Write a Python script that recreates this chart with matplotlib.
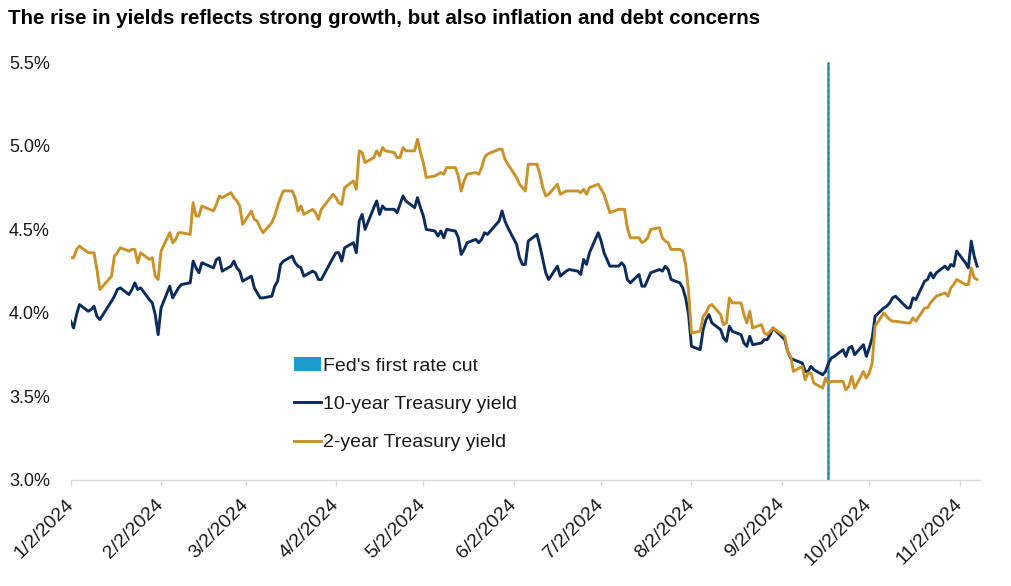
import matplotlib
matplotlib.use('Agg')
import matplotlib.pyplot as plt
import matplotlib.patches as mpatches
from matplotlib.lines import Line2D
import pandas as pd

plt.rcParams['font.family'] = ['Liberation Sans', 'DejaVu Sans']

W, H = 1011, 586

C_10Y  = '#0c2c5c'
C_2Y   = '#c9922b'
C_FED  = '#1c9ccc'
C_TEXT = '#1a1a1a'
C_AXIS = '#d9d9d9'

# ── 데이터 ──────────────────────────────────────────────────────────────
START, END = '2024-01-02', '2024-11-08'
HOLIDAYS = ['2024-01-15', '2024-02-19', '2024-03-29', '2024-05-27',
            '2024-06-19', '2024-07-04', '2024-09-02', '2024-10-14']
FED_CUT = '2024-09-18'

TEN_YEAR = [
    3.95, 3.91, 3.99, 4.05, 4.01, 4.02, 4.04, 3.98, 3.96, 4.07, 4.10, 4.14, 4.15, 4.11, 4.14, 4.18, 4.14, 4.15, 4.08, 4.06, 3.99,  # jan
    3.87, 4.03, 4.16, 4.09, 4.12, 4.15, 4.17, 4.18, 4.31, 4.27, 4.24, 4.30, 4.27, 4.32, 4.33, 4.25, 4.28, 4.31, 4.27, 4.25,  # feb
    4.19, 4.22, 4.15, 4.12, 4.09, 4.09, 4.10, 4.16, 4.19, 4.29, 4.31, 4.34, 4.30, 4.28, 4.27, 4.22, 4.25, 4.24, 4.20, 4.20,  # mar
    4.33, 4.36, 4.36, 4.31, 4.39, 4.42, 4.36, 4.55, 4.59, 4.50, 4.63, 4.67, 4.59, 4.64, 4.62, 4.62, 4.60, 4.65, 4.70, 4.67, 4.63, 4.69,  # apr
    4.63, 4.58, 4.50, 4.49, 4.46, 4.49, 4.45, 4.50, 4.49, 4.45, 4.35, 4.38, 4.42, 4.44, 4.42, 4.44, 4.48, 4.47, 4.55, 4.61, 4.55, 4.51,  # may
    4.41, 4.33, 4.29, 4.29, 4.43, 4.47, 4.40, 4.32, 4.24, 4.20, 4.28, 4.22, 4.25, 4.26, 4.25, 4.23, 4.32, 4.29, 4.36,  # jun
    4.48, 4.43, 4.36, 4.28, 4.28, 4.30, 4.28, 4.20, 4.18, 4.23, 4.16, 4.16, 4.20, 4.24, 4.26, 4.25, 4.28, 4.26, 4.20, 4.18, 4.15, 4.09,  # jul
    3.99, 3.80, 3.78, 3.90, 3.96, 3.99, 3.94, 3.90, 3.85, 3.83, 3.92, 3.89, 3.87, 3.82, 3.80, 3.86, 3.81, 3.82, 3.84, 3.84, 3.87, 3.91,  # aug
    3.84, 3.77, 3.73, 3.72, 3.70, 3.65, 3.65, 3.68, 3.66, 3.63, 3.65, 3.70, 3.73, 3.74, 3.78, 3.74, 3.79, 3.80, 3.75, 3.81,  # sep
    3.74, 3.79, 3.85, 3.98, 4.03, 4.04, 4.06, 4.09, 4.10, 4.03, 4.03, 4.09, 4.08, 4.19, 4.20, 4.24, 4.21, 4.24, 4.28, 4.26, 4.29, 4.28,  # oct
    4.37, 4.30, 4.27, 4.43, 4.34, 4.28,  # nov
]

TWO_YEAR = [
    4.33, 4.33, 4.38, 4.40, 4.36, 4.36, 4.36, 4.26, 4.14, 4.22, 4.34, 4.36, 4.39, 4.37, 4.38, 4.38, 4.30, 4.36, 4.32, 4.33, 4.22,  # jan
    4.20, 4.37, 4.48, 4.42, 4.44, 4.48, 4.48, 4.47, 4.66, 4.58, 4.58, 4.64, 4.61, 4.65, 4.70, 4.69, 4.72, 4.69, 4.67, 4.64,  # feb
    4.53, 4.61, 4.56, 4.55, 4.51, 4.48, 4.54, 4.58, 4.64, 4.69, 4.73, 4.73, 4.69, 4.61, 4.64, 4.59, 4.62, 4.60, 4.56, 4.62,  # mar
    4.71, 4.69, 4.66, 4.65, 4.75, 4.79, 4.74, 4.97, 4.96, 4.90, 4.93, 4.97, 4.94, 4.99, 4.97, 4.96, 4.93, 4.93, 4.99, 4.97, 4.97, 5.04,  # apr
    4.96, 4.90, 4.81, 4.82, 4.83, 4.84, 4.83, 4.87, 4.87, 4.82, 4.73, 4.79, 4.83, 4.84, 4.83, 4.87, 4.93, 4.95, 4.98, 4.98, 4.92, 4.89,  # may
    4.81, 4.77, 4.75, 4.73, 4.89, 4.89, 4.83, 4.75, 4.70, 4.71, 4.77, 4.71, 4.73, 4.73, 4.73, 4.72, 4.74, 4.71, 4.75,  # jun
    4.77, 4.74, 4.71, 4.60, 4.62, 4.62, 4.62, 4.51, 4.45, 4.45, 4.42, 4.43, 4.45, 4.50, 4.51, 4.45, 4.43, 4.42, 4.38, 4.38, 4.37, 4.29,  # jul
    4.13, 3.88, 3.89, 3.98, 4.00, 4.04, 4.05, 3.99, 3.93, 3.94, 4.09, 4.06, 4.06, 3.99, 3.94, 4.01, 3.91, 3.93, 3.88, 3.87, 3.89, 3.91,  # aug
    3.86, 3.77, 3.74, 3.65, 3.68, 3.60, 3.64, 3.64, 3.58, 3.55, 3.61, 3.58, 3.59, 3.59, 3.59, 3.54, 3.56, 3.62, 3.55, 3.65,  # sep
    3.61, 3.64, 3.70, 3.92, 4.00, 3.98, 3.96, 3.95, 3.95, 3.94, 3.94, 3.97, 3.95, 4.03, 4.03, 4.06, 4.08, 4.10, 4.12, 4.10, 4.15, 4.17,  # oct
    4.20, 4.17, 4.17, 4.27, 4.21, 4.20,  # nov
]

TICK_DATES  = ['2024-01-02', '2024-02-02', '2024-03-02', '2024-04-02', '2024-05-02', '2024-06-02',
               '2024-07-02', '2024-08-02', '2024-09-02', '2024-10-02', '2024-11-02']
TICK_LABELS = ['1/2/2024', '2/2/2024', '3/2/2024', '4/2/2024', '5/2/2024', '6/2/2024',
               '7/2/2024', '8/2/2024', '9/2/2024', '10/2/2024', '11/2/2024']
Y_TICKS = [3.0, 3.5, 4.0, 4.5, 5.0, 5.5]

dates = pd.bdate_range(START, END, freq='C', holidays=HOLIDAYS)
assert len(dates) == len(TEN_YEAR) == len(TWO_YEAR), (len(dates), len(TEN_YEAR), len(TWO_YEAR))

# ── 그림 ────────────────────────────────────────────────────────────────
fig = plt.figure(figsize=(W / 100, H / 100), dpi=100)
fig.patch.set_facecolor('white')

L, R, T, B = 70.7, 980, 62.3, 480
ax = fig.add_axes([L / W, 1 - B / H, (R - L) / W, (B - T) / H])

fed = pd.Timestamp(FED_CUT)
ax.plot([fed, fed], [Y_TICKS[0], Y_TICKS[-1]], color=C_FED, lw=1.8, zorder=1, solid_capstyle='butt')
ax.plot([fed, fed], [Y_TICKS[0], Y_TICKS[-1]], color='#2b6f96', lw=0.9, dashes=(2, 2.5), zorder=1)

ax.plot(dates, TEN_YEAR, color=C_10Y, lw=2.1, zorder=3, solid_joinstyle='round')
ax.plot(dates, TWO_YEAR, color=C_2Y, lw=2.1, zorder=3, solid_joinstyle='round')

ax.set_xlim(pd.Timestamp('2024-01-02'), pd.Timestamp('2024-11-09'))
ax.set_ylim(Y_TICKS[0], Y_TICKS[-1])

ax.set_xticks(pd.to_datetime(TICK_DATES))
ax.set_xticklabels(TICK_LABELS, rotation=45, ha='right', va='center',
                   rotation_mode='anchor', fontsize=14, color=C_TEXT)
ax.set_yticks(Y_TICKS)
ax.set_yticklabels([f'{v:.1f}%' for v in Y_TICKS], fontsize=13, color=C_TEXT)

ax.tick_params(axis='x', direction='out', length=4.5, width=1, color=C_AXIS, pad=11)
ax.tick_params(axis='y', length=0, pad=15)

for s in ['top', 'right', 'left']:
    ax.spines[s].set_visible(False)
ax.spines['bottom'].set_color(C_AXIS)
ax.spines['bottom'].set_linewidth(1)

handles = [
    mpatches.Patch(facecolor=C_FED, edgecolor='none', label="Fed's first rate cut"),
    Line2D([], [], color=C_10Y, lw=2.1, label='10-year Treasury yield'),
    Line2D([], [], color=C_2Y, lw=2.1, label='2-year Treasury yield'),
]
fig.legend(handles=handles, loc='upper left', bbox_to_anchor=(294 / W, 1 - 357 / H),
           frameon=False, fontsize=14, borderpad=0, borderaxespad=0,
           handlelength=1.39, handletextpad=0.12, labelspacing=1.07, labelcolor=C_TEXT)

fig.text(8 / W, 1 - 18 / H,
         'The rise in yields reflects strong growth, but also inflation and debt concerns',
         ha='left', va='center', fontsize=14.8, fontweight='bold', color='black')

plt.savefig('out.png', dpi=100, facecolor='white')
plt.close()
print('saved: out.png')
